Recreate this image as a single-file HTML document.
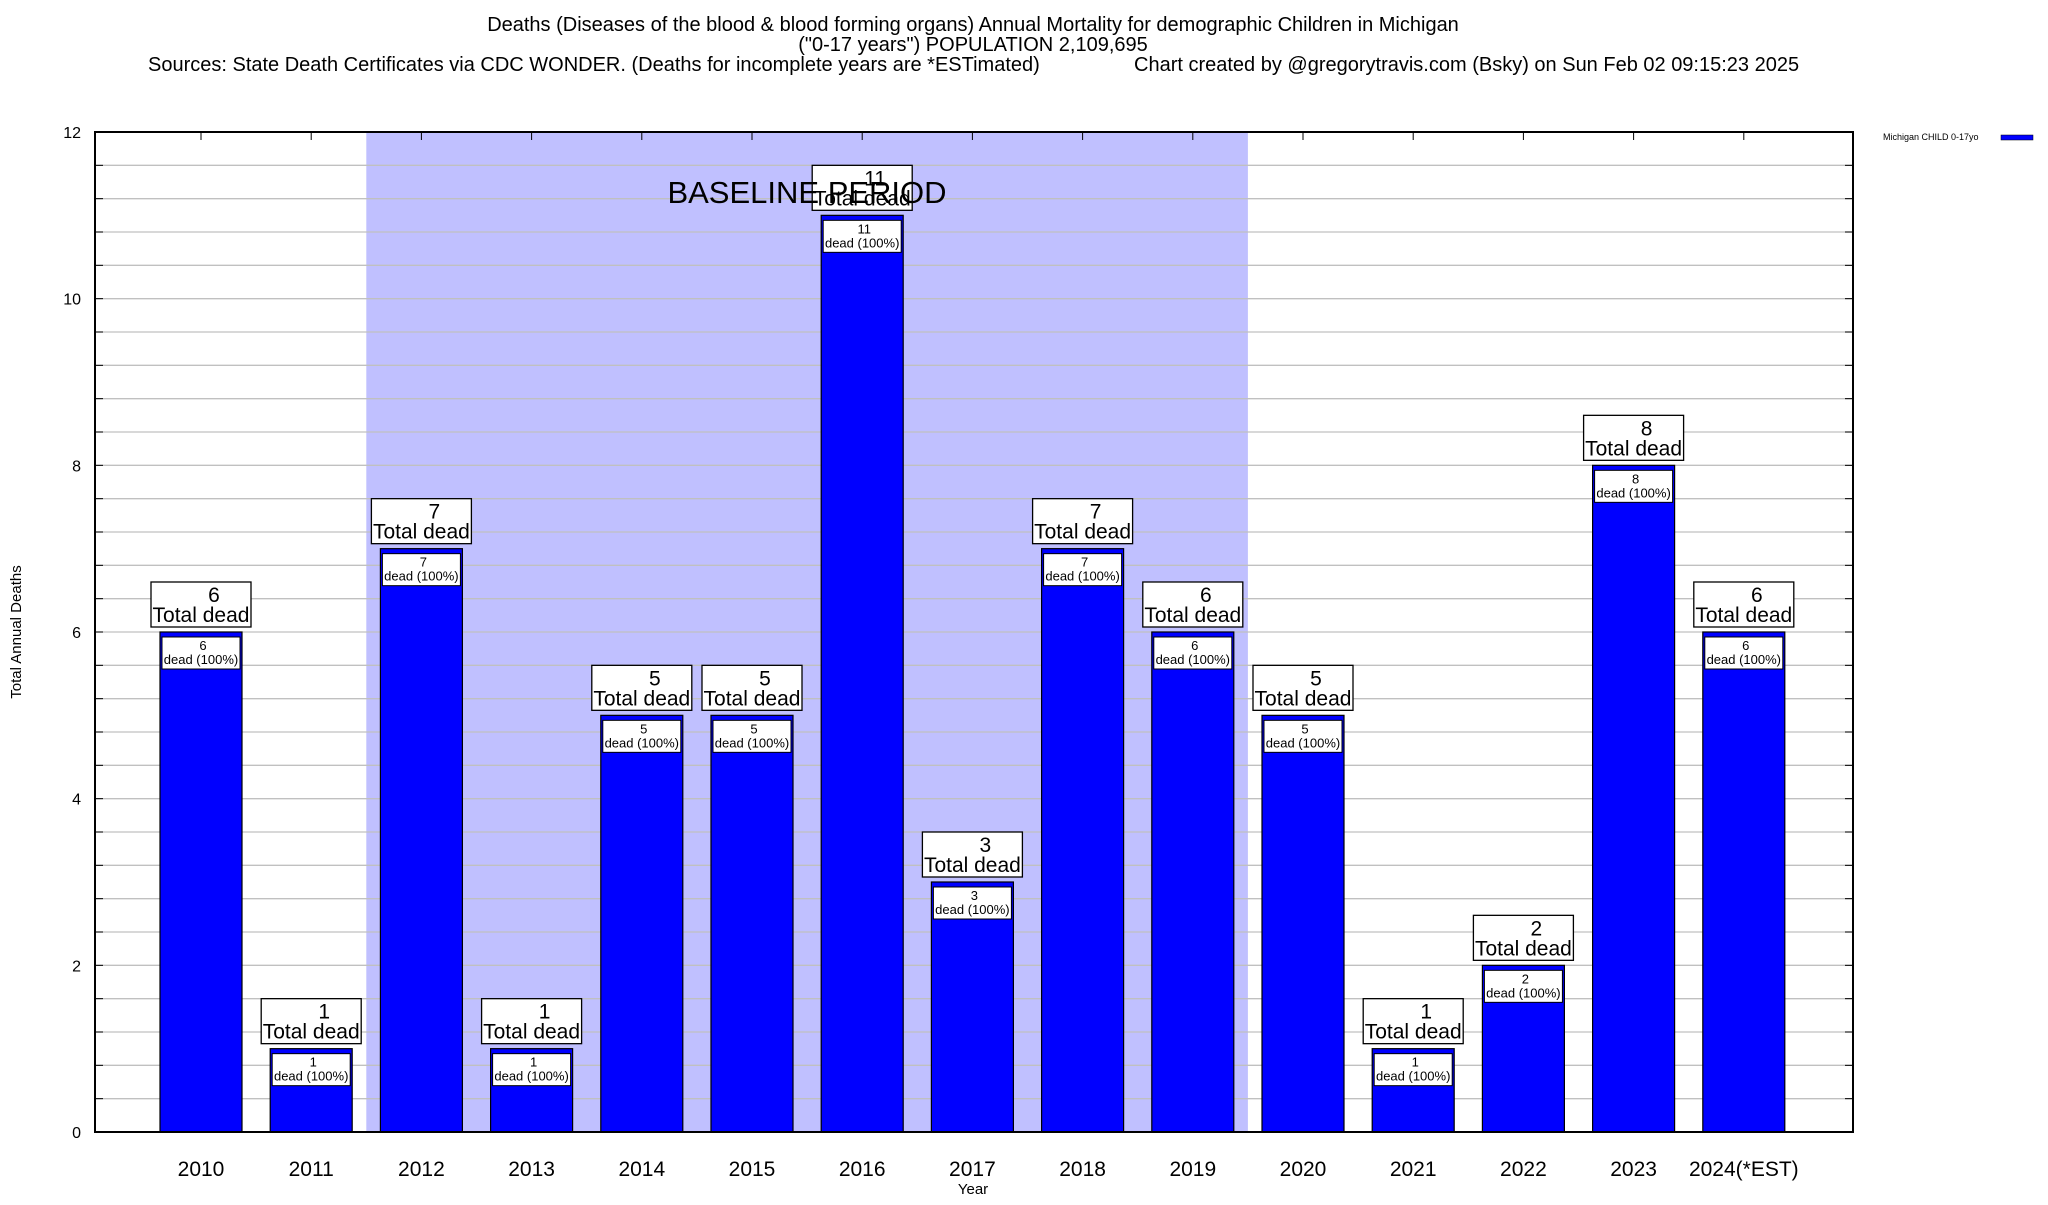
<!DOCTYPE html>
<html><head><meta charset="utf-8"><style>
html,body{margin:0;padding:0;background:#fff}
svg text{font-family:"Liberation Sans",sans-serif}
</style></head><body>
<svg id="c" width="2048" height="1200" xmlns="http://www.w3.org/2000/svg">
<g font-size="20" fill="#000">
<text x="973" y="31" text-anchor="middle">Deaths (Diseases of the blood &amp; blood forming organs) Annual Mortality for demographic Children in Michigan</text>
<text x="973" y="51" text-anchor="middle">("0-17 years") POPULATION 2,109,695</text>
<text x="148" y="71">Sources: State Death Certificates via CDC WONDER. (Deaths for incomplete years are *ESTimated)</text>
<text x="1134" y="71">Chart created by @gregorytravis.com (Bsky) on Sun Feb 02 09:15:23 2025</text>
</g>
<g id="plot"></g>
<text transform="translate(21,632) rotate(-90)" text-anchor="middle" font-size="15">Total Annual Deaths</text>
<text x="973" y="1194" text-anchor="middle" font-size="15">Year</text>
<g>
<text x="1883" y="140" font-size="9">Michigan CHILD 0-17yo</text>
<rect x="2001" y="135" width="32" height="5" fill="#0000ff" stroke="#000" stroke-width="0.5"/>
</g>
</svg>
<script>
const categories=["2010","2011","2012","2013","2014","2015","2016","2017","2018","2019","2020","2021","2022","2023","2024(*EST)"];
const values=[6,1,7,1,5,5,11,3,7,6,5,1,2,8,6];
const yTicks=[0,2,4,6,8,10,12];
const baselineStart=2, baselineEnd=9;
const NS="http://www.w3.org/2000/svg";
const L=95,R=1853,T=132,B=1132,X0=201,DX=110.2,BW=82;
const y=v=>B-(B-T)*v/12;
const x=i=>X0+i*DX;
const g=document.getElementById('plot');
function mk(t,a){const e=document.createElementNS(NS,t);for(const k in a)e.setAttribute(k,a[k]);g.appendChild(e);return e;}
let e=mk('rect',{x:x(baselineStart)-DX/2,y:T,width:(baselineEnd-baselineStart+1)*DX,height:B-T,fill:'#c0c0ff'});


for(let v=0;v<=12.001;v+=0.4){
 e=mk('line',{x1:L,x2:R,y1:y(v),y2:y(v),stroke:'#c0c0c0','stroke-width':1.3});
 
 
 mk('line',{x1:L,x2:L+8,y1:y(v),y2:y(v),stroke:'#000'});
 mk('line',{x1:R-8,x2:R,y1:y(v),y2:y(v),stroke:'#000'});
}
yTicks.forEach(v=>{
 e=mk('text',{x:81,y:y(v)+6,'text-anchor':'end','font-size':16});
 e.textContent=v;
 
 
});
categories.forEach((c,i)=>{
 const cx=x(i),v=values[i],top=y(v);
 mk('line',{x1:cx,x2:cx,y1:T,y2:T+8,stroke:'#000'});
 mk('line',{x1:cx,x2:cx,y1:B-8,y2:B,stroke:'#000'});
 e=mk('rect',{x:cx-BW/2,y:top,width:BW,height:B-top,fill:'#0000ff',stroke:'#000','stroke-width':1.2});
 
 
 e=mk('rect',{x:cx-BW/2+2,y:top+5,width:BW-4,height:32,fill:'#fff',stroke:'#000','stroke-width':1});
 
 
 e=mk('text',{x:cx+2,y:top+18,'text-anchor':'middle','font-size':13});e.textContent=v;
 
 
 e=mk('text',{x:cx,y:top+32,'text-anchor':'middle','font-size':13});e.textContent='dead (100%)';
 
 
 e=mk('rect',{x:cx-50,y:top-50,width:100,height:45,fill:'#fff',stroke:'#000','stroke-width':1.3});
 
 
 e=mk('text',{x:cx+13,y:top-30,'text-anchor':'middle','font-size':21});e.textContent=v;
 
 
 e=mk('text',{x:cx,y:top-10,'text-anchor':'middle','font-size':21});e.textContent='Total dead';
 
 
 e=mk('text',{x:cx,y:1176,'text-anchor':'middle','font-size':21});e.textContent=c;
 
 
});
e=mk('text',{x:807,y:203,'text-anchor':'middle','font-size':31});
e.textContent='BASELINE PERIOD';


e=mk('rect',{x:L,y:T,width:R-L,height:B-T,fill:'none',stroke:'#000','stroke-width':2});


</script>
</body></html>
